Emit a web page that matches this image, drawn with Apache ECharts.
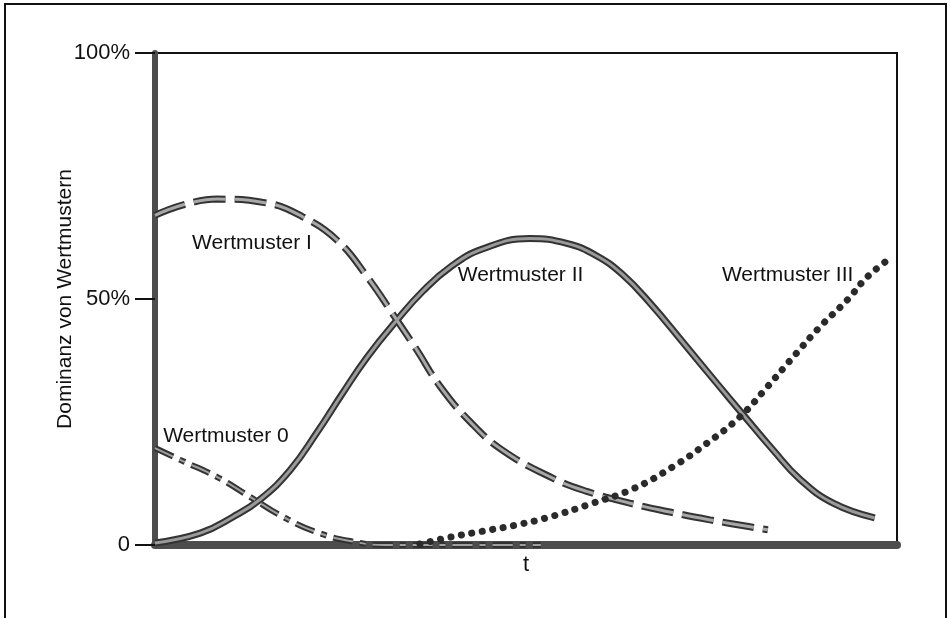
<!DOCTYPE html>
<html>
<head>
<meta charset="utf-8">
<title>Wertmuster</title>
<script src="https://cdn.jsdelivr.net/npm/echarts@6/dist/echarts.min.js"></script>
<style>
	html, body { margin: 0; padding: 0; background: #fff; }
	#chart { width: 950px; height: 618px; }
</style>
</head>
<body>
<div id="chart"></div>
<script>
	var wertmuster0 = [[0, 19.7], [3.4, 17.3], [8.4, 13.8], [12.8, 9.8], [17.3, 5.7], [21.8, 2.6], [26.3, 0.8], [31, 0], [42, 0], [52, 0]];
	var wertmusterI = [[0, 67], [8.4, 70.3], [15.1, 69.5], [19.9, 66.7], [24.5, 62], [28.6, 54.5], [32.6, 45.7], [35.3, 39.6], [38.4, 32.3], [42.5, 25], [46.9, 19.2], [53.6, 13.6], [58.2, 10.9], [64, 8.5], [69.4, 6.7], [74.8, 5.1], [80.2, 3.7], [82.6, 3.1]];
	var wertmusterII = [[0, 0.4], [6.1, 2.4], [10.5, 5.7], [14.2, 9.3], [18.2, 15.2], [21.8, 22.8], [25.3, 30.9], [28.6, 38.2], [32.6, 45.7], [36.1, 51.6], [39.8, 56.5], [44.2, 60.2], [50.5, 62.3], [55.5, 61.3], [59.5, 58.8], [63, 55], [66.7, 49.2], [71.2, 41.1], [75.7, 32.9], [79.2, 26.6], [83.3, 19.3], [86.9, 13.4], [91.4, 8.5], [97, 5.5]];
	var wertmusterIII = [[35.7, 0.2], [39.8, 1.6], [44.9, 3], [48.8, 4.1], [53.2, 5.7], [58.6, 8.3], [64.4, 11.4], [69.8, 15.9], [74.4, 20.7], [78.8, 26], [82.5, 32.1], [86, 38.2], [89.6, 44.3], [93.3, 49.8], [96, 54.5], [99.1, 58.3]];
	var yTicks = [0, 50, 100];
	var yTickLabels = ['0', '50%', '100%'];
	var namen = ['Wertmuster 0', 'Wertmuster I', 'Wertmuster II', 'Wertmuster III'];
	// Lage der Beschriftungen (linker Rand, Mitte) in Datenkoordinaten
	var namenPos = [[1.1, 22.2], [5, 61.4], [40.8, 54.9], [76.4, 54.9]];

	var font = '"Liberation Sans", Arial, Helvetica, sans-serif';

	function nameMark(i) {
		return {
			silent: true,
			symbol: 'circle',
			symbolSize: 0,
			data: [{
				coord: namenPos[i],
				label: {
					show: true,
					formatter: namen[i],
					position: 'right',
					distance: 0,
					color: '#111',
					fontSize: 21,
					fontFamily: font
				}
			}]
		};
	}

	function linie(data, width, color, type, z, extra) {
		var s = {
			type: 'line',
			data: data,
			smooth: 0.45,
			showSymbol: false,
			silent: true,
			z: z,
			lineStyle: { width: width, color: color, type: type, cap: 'butt' }
		};
		for (var k in extra) s[k] = extra[k];
		return s;
	}

	var chart = echarts.init(document.getElementById('chart'));
	chart.setOption({
		backgroundColor: '#fff',
		animation: false,
		grid: {
			left: 155, top: 53, right: 53, bottom: 73,
			show: true, borderColor: '#111', borderWidth: 2
		},
		xAxis: {
			type: 'value', min: 0, max: 100,
			name: 't', nameLocation: 'middle', nameGap: 9,
			nameTextStyle: { color: '#111', fontSize: 22, fontFamily: font },
			axisLine: { lineStyle: { color: '#4d4d4d', width: 8 } },
			axisTick: { show: false },
			axisLabel: { show: false },
			splitLine: { show: false }
		},
		yAxis: {
			type: 'value', min: 0, max: 100, interval: 50,
			name: 'Dominanz von Wertmustern', nameLocation: 'middle', nameGap: 79,
			nameMoveOverlap: false,
			nameTextStyle: { color: '#111', fontSize: 21, fontFamily: font },
			axisLine: { show: true, lineStyle: { color: '#4d4d4d', width: 6 } },
			axisTick: { show: true, length: 20, lineStyle: { color: '#111', width: 2 } },
			axisLabel: {
				margin: 25, color: '#111', fontSize: 22, fontFamily: font,
				formatter: function(v) { return yTickLabels[yTicks.indexOf(v)]; }
			},
			splitLine: { show: false }
		},
		graphic: [{
			type: 'rect',
			shape: { x: 5, y: 4, width: 941, height: 660 },
			style: { fill: 'none', stroke: '#111', lineWidth: 2 },
			silent: true
		}],
		series: [
			// Wertmuster 0, strichpunktiert
			linie(wertmuster0, 6, '#333', [20, 7, 6, 7], 3, { markPoint: nameMark(0) }),
			linie(wertmuster0, 2, '#a0a0a0', [20, 7, 6, 7], 4, {}),
			// Wertmuster I, gestrichelt
			linie(wertmusterI, 7, '#333', [32, 9], 3, { markPoint: nameMark(1) }),
			linie(wertmusterI, 3, '#a8a8a8', [32, 9], 4, {}),
			// Wertmuster II, durchgezogen
			linie(wertmusterII, 7, '#333', 'solid', 3, { markPoint: nameMark(2) }),
			linie(wertmusterII, 3, '#9a9a9a', 'solid', 4, {}),
			// Wertmuster III, punktiert
			{
				type: 'line',
				data: wertmusterIII,
				smooth: 0.45,
				showSymbol: false,
				silent: true,
				z: 5,
				lineStyle: { width: 7, color: '#2a2a2a', type: [0.1, 10.5], cap: 'round' },
				markPoint: nameMark(3)
			}
		]
	});
</script>
</body>
</html>
